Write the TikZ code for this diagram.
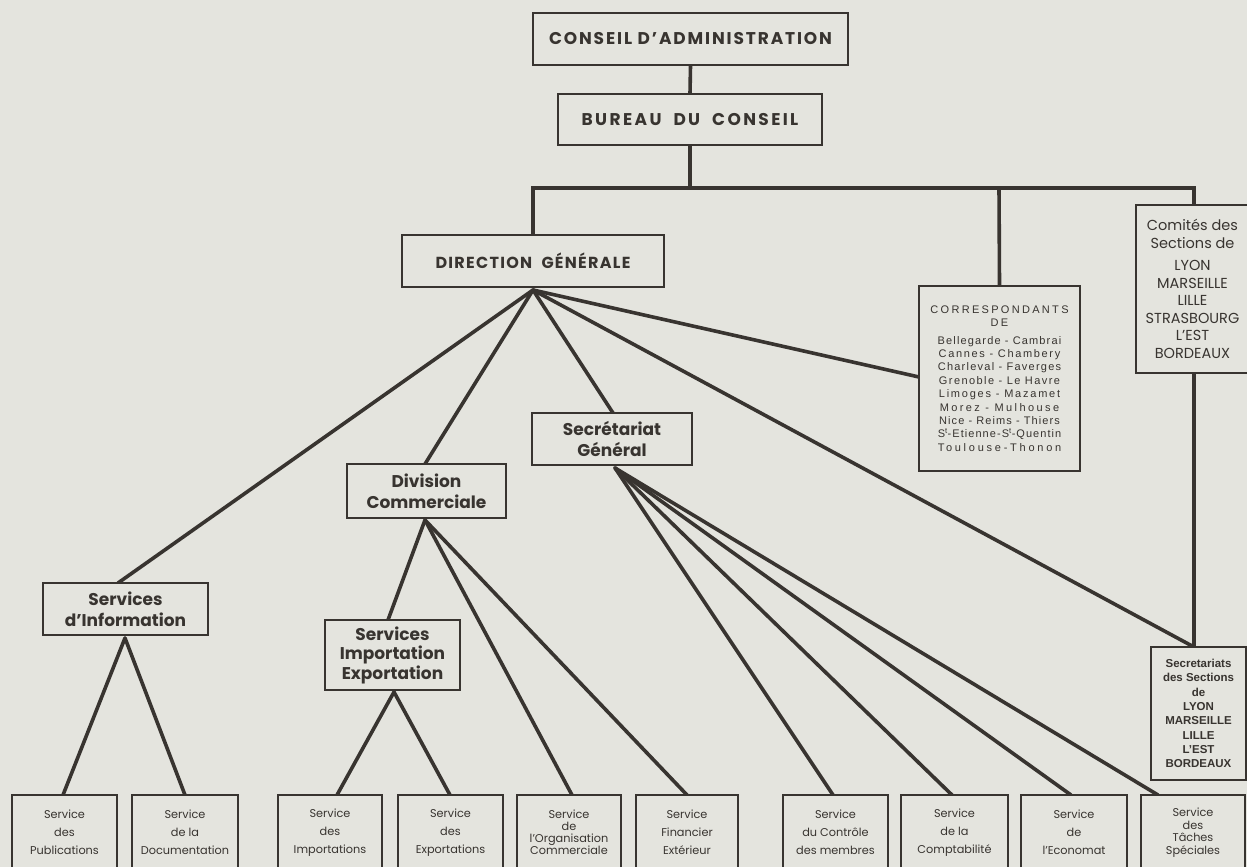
\documentclass[tikz,border=0pt]{standalone}
\usepackage{fontspec}
\setmainfont{Poppins}
\newfontfamily\helv{Liberation Sans}
\newfontfamily\headfont{Poppins}[LetterSpace=8]
\newcommand\lsp[2]{{\addfontfeature{LetterSpace=#1}#2}}
\usetikzlibrary{shadows}
\definecolor{paper}{RGB}{228,228,222}
\definecolor{ink}{RGB}{56,52,48}
\pgfdeclarelayer{back}
\pgfdeclarelayer{bg}
\pgfsetlayers{back,bg,main}
\tikzset{
  box/.style={draw=ink, line width=1.3pt, fill=paper, text=ink, align=center, inner sep=0pt,
    drop shadow={shadow xshift=1.3pt, shadow yshift=-1.3pt, fill=ink, opacity=1}},
  head/.style={box, font=\headfont\bfseries\fontsize{17}{20}\selectfont},
  sub/.style={box, font=\bfseries\fontsize{17}{21}\selectfont},
  svc/.style={box, font=\fontsize{11.3}{18}\selectfont},
  svctight/.style={box, font=\fontsize{11.3}{12}\selectfont},
  wire/.style={draw=ink, line width=3.6pt, line cap=round, line join=round},
}
\begin{document}
\begin{tikzpicture}[x=1pt,y=-1pt]
\clip (0,0) rectangle (1247,867);
\begin{pgfonlayer}{back}
\fill[paper] (0,0) rectangle (1247,867);
\end{pgfonlayer}

% top levels
\node[head, minimum width=315pt, minimum height=52pt] (conseil) at (690.5,39) {\addfontfeature{LetterSpace=11}CONSEIL D’ADMINISTRATION};
\node[head, minimum width=264pt, minimum height=51pt] (bureau) at (690,119.5) {\addfontfeature{LetterSpace=14}BUREAU\ \ DU\ \ CONSEIL};
\node[head, minimum width=262pt, minimum height=52pt, font=\headfont\bfseries\fontsize{16}{20}\selectfont] (dg) at (533,261) {DIRECTION\ \ GÉNÉRALE};

\node[box, minimum width=161pt, minimum height=185pt, font=\helv\fontsize{11}{13.4}\selectfont] (corr) at (999.5,378.5)
 {\lsp{21}{CORRESPONDANTS}\\ \lsp{21}{DE}\\[4pt]
  \lsp{10.5}{Bellegarde - Cambrai}\\
  \lsp{15}{Cannes - Chambery}\\
  \lsp{11.4}{Charleval - Faverges}\\
  \lsp{13}{Grenoble - Le Havre}\\
  \lsp{16}{Limoges - Mazamet}\\
  \lsp{22}{Morez - Mulhouse}\\
  \lsp{10}{Nice - Reims - Thiers}\\
  \lsp{9.5}{S\textsuperscript{t}-Etienne-S\textsuperscript{t}-Quentin}\\
  \lsp{25}{Toulouse-Thonon}};

\node[box, minimum width=113pt, minimum height=168pt, font=\fontsize{14.5}{17.5}\selectfont] (comites) at (1192.5,289)
 {Comités des\\ Sections de\\[5pt] LYON\\ MARSEILLE\\ LILLE\\ STRASBOURG\\ L’EST\\ BORDEAUX};

\node[sub, minimum width=160pt, minimum height=52pt] (sg) at (612,439) {Secrétariat\\ Général};
\node[sub, minimum width=159pt, minimum height=54pt] (div) at (426.5,491) {Division\\ Commerciale};
\node[sub, minimum width=165pt, minimum height=52pt] (info) at (125.5,609) {Services\\ d’Information};
\node[sub, minimum width=135pt, minimum height=70pt, font=\bfseries\fontsize{17}{19.5}\selectfont] (impexp) at (392.5,655) {Services\\ Importation\\ Exportation};

\node[box, minimum width=95pt, minimum height=133pt, font=\helv\bfseries\fontsize{11.5}{14.3}\selectfont] (secsec) at (1198.5,713.5)
 {Secretariats\\ des Sections\\ de\\ LYON\\ MARSEILLE\\ LILLE\\ L’EST\\ BORDEAUX};

% bottom row
\node[svc, minimum width=105pt, minimum height=75pt] (pub) at (64.5,832.5) {Service\\ des\\ Publications};
\node[svc, minimum width=106pt, minimum height=75pt] (doc) at (185,832.5) {Service\\ de la\\ Documentation};
\node[svc, minimum width=104pt, minimum height=75pt] (imp) at (330,832.5) {Service\\ des\\ Importations};
\node[svc, minimum width=105pt, minimum height=75pt] (exp) at (450.5,832.5) {Service\\ des\\ Exportations};
\node[svctight, minimum width=104pt, minimum height=75pt] (org) at (569,832.5) {Service\\ de\\ l’Organisation\\ Commerciale};
\node[svc, minimum width=102pt, minimum height=75pt] (fin) at (687,832.5) {Service\\ Financier\\ Extérieur};
\node[svc, minimum width=105pt, minimum height=75pt] (ctrl) at (835.5,832.5) {Service\\ du Contrôle\\ des membres};
\node[svc, minimum width=107pt, minimum height=75pt] (compt) at (954.5,832.5) {Service\\ de la\\ Comptabilité};
\node[svc, minimum width=106pt, minimum height=75pt] (econ) at (1074,832.5) {Service\\ de\\ l’Economat};
\node[svctight, minimum width=104pt, minimum height=75pt, font=\fontsize{11.3}{12.5}\selectfont] (taches) at (1193,832.5) {Service\\ des\\ Tâches\\ Spéciales};

% junction points
\coordinate (bar) at (690,188);
\coordinate (barL) at (533,188);
\coordinate (barM) at (999,188);
\coordinate (barR) at (1194,188);
\coordinate (dgfan) at (533,290);
\coordinate (sgfan) at (615,468);
\coordinate (divfan) at (425,520);
\coordinate (infofan) at (125,638);
\coordinate (iefan) at (394,692);
% entry points
\coordinate (info-in) at (118,583);
\coordinate (div-in) at (425,464);
\coordinate (sg-in) at (613,413);
\coordinate (corr-in) at (919,377);
\coordinate (secsec-in) at (1194,647);
\coordinate (ie-in) at (388,620);
\coordinate (pub-in) at (63,795);
\coordinate (doc-in) at (185,795);
\coordinate (imp-in) at (337,795);
\coordinate (exp-in) at (450,795);
\coordinate (org-in) at (572,795);
\coordinate (fin-in) at (687,795);
\coordinate (ctrl-in) at (833,795);
\coordinate (compt-in) at (952,795);
\coordinate (econ-in) at (1071,795);
\coordinate (taches-in) at (1158,795);

\begin{pgfonlayer}{bg}
\draw[wire] (conseil.south) -- (bureau.north);
\draw[wire, line cap=butt] (bureau.south) -- (bar);
\draw[wire, line cap=butt] ([xshift=-1.8pt]barL) -- ([xshift=1.8pt]barR);
\draw[wire, line cap=butt] (barL) -- (dg.north);
\draw[wire, line cap=butt] (barM) -- (corr.north);
\draw[wire, line cap=butt] (barR) -- (comites.north -| barR);
\draw[wire, line cap=butt] (comites.south -| barR) -- (secsec-in);
\foreach \t in {info-in,div-in,sg-in,corr-in,secsec-in} \draw[wire] (dgfan) -- (\t);
\foreach \t in {ctrl-in,compt-in,econ-in,taches-in} \draw[wire] (sgfan) -- (\t);
\foreach \t in {ie-in,org-in,fin-in} \draw[wire] (divfan) -- (\t);
\foreach \t in {imp-in,exp-in} \draw[wire] (iefan) -- (\t);
\foreach \t in {pub-in,doc-in} \draw[wire] (infofan) -- (\t);
\end{pgfonlayer}
\end{tikzpicture}
\end{document}
